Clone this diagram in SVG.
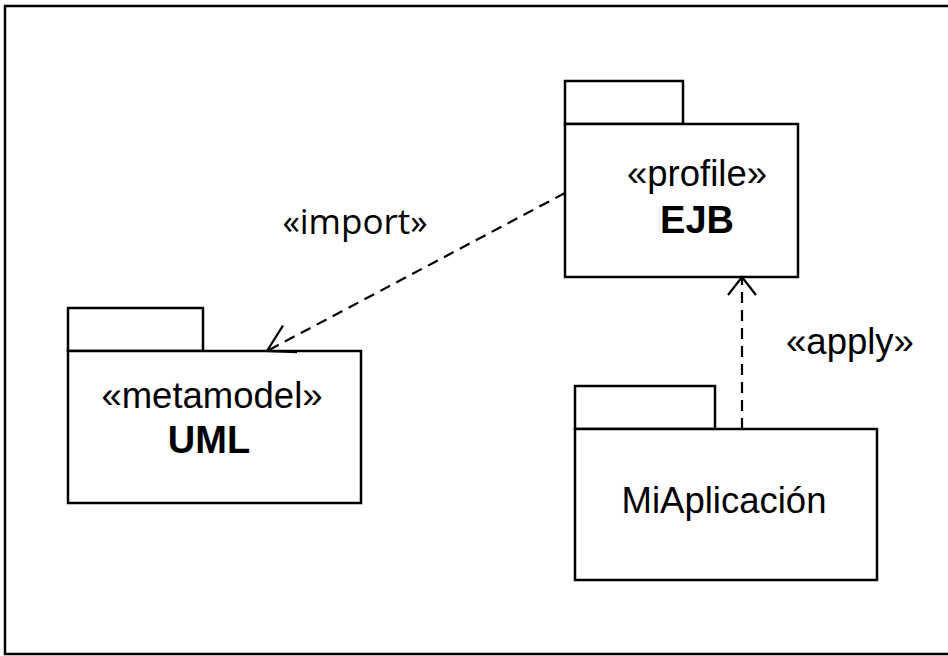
<svg xmlns="http://www.w3.org/2000/svg" width="948" height="656" viewBox="0 0 948 656">
<defs>
<style>
.frame{fill:none;stroke:#000;stroke-width:2.5}
.box{fill:#fff;stroke:#000;stroke-width:2.5}
.t{font-family:"Liberation Sans",Arial,sans-serif;font-size:36.5px;fill:#000;text-anchor:middle}
.b{font-weight:bold;font-size:38px}
.lbl{font-family:"Open Sans","Liberation Sans",sans-serif;font-size:35px;fill:#000;text-anchor:middle}
.dep{fill:none;stroke:#000;stroke-width:2.2;stroke-dasharray:11 7}
.head{fill:none;stroke:#000;stroke-width:2.2}
</style>
<marker id="openA" markerUnits="userSpaceOnUse" markerWidth="40" markerHeight="40" viewBox="-30 -20 40 40" refX="0" refY="0" orient="auto" overflow="visible">
<path class="head" d="M-26,-15 L0,0 L-26,15"/>
</marker>
<marker id="openB" markerUnits="userSpaceOnUse" markerWidth="40" markerHeight="40" viewBox="-30 -20 40 40" refX="0" refY="0" orient="auto" overflow="visible">
<path class="head" d="M-18,-14 L0,0 L-18,14"/>
</marker>
</defs>
<rect x="0" y="0" width="948" height="656" fill="#fff"/>
<path class="frame" d="M948,6 H5 V654 H948"/>
<g id="EJB">
<rect class="box" x="565" y="81" width="118" height="43"/>
<rect class="box" x="565" y="124" width="233" height="153"/>
<text class="t" x="697" y="186">«profile»</text>
<text class="t b" x="697" y="233">EJB</text>
</g>
<g id="UML">
<rect class="box" x="68" y="308" width="135" height="43"/>
<rect class="box" x="68" y="351" width="293" height="152"/>
<text class="t" x="212" y="408">«metamodel»</text>
<text class="t b" x="209" y="453">UML</text>
</g>
<g id="MiAplicacion">
<rect class="box" x="575" y="386" width="140" height="43"/>
<rect class="box" x="575" y="429" width="302" height="151"/>
<text class="t" x="724" y="513">MiAplicación</text>
</g>
<g id="connectors">
<path class="dep" d="M565,193 L267,351" marker-end="url(#openA)"/>
<path class="dep" d="M742,429 L742,277" marker-end="url(#openB)"/>
<text class="lbl" x="355" y="234">«import»</text>
<text class="t" x="850" y="354">«apply»</text>
</g>
</svg>
